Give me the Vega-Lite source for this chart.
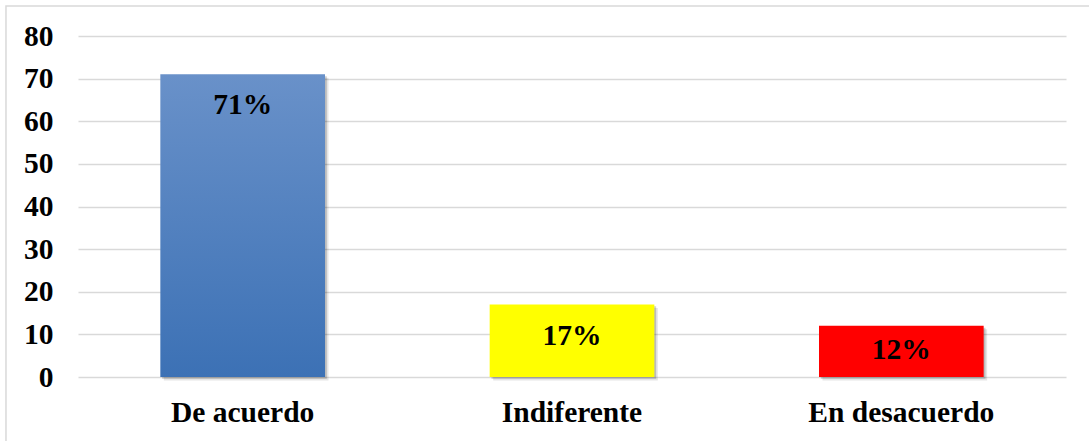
{
  "$schema": "https://vega.github.io/schema/vega-lite/v6.json",
  "autosize": {"type": "none"},
  "width": 988,
  "height": 341,
  "padding": {"left": 78, "top": 36, "right": 23, "bottom": 64},
  "background": "#ffffff",
  "config": {
    "view": {"stroke": null},
    "font": "Liberation Serif"
  },
  "data": {
    "values": [
      {"categoria": "De acuerdo", "valor": 71},
      {"categoria": "Indiferente", "valor": 17},
      {"categoria": "En desacuerdo", "valor": 12}
    ]
  },
  "transform": [{"calculate": "datum.valor + '%'", "as": "etiqueta"}],
  "layer": [
    {
      "data": {"values": [{}]},
      "mark": {"type": "rect", "fill": null, "stroke": "#d9d9d9", "strokeWidth": 1.5},
      "encoding": {
        "x": {"datum": -0.0729, "type": "quantitative", "scale": {"domain": [0, 1], "zero": false, "nice": false}, "axis": null},
        "x2": {"datum": 1.05},
        "y": {"datum": 87.05, "type": "quantitative"},
        "y2": {"datum": -30}
      }
    },
    {
      "encoding": {
        "x": {
          "field": "categoria",
          "type": "nominal",
          "sort": null,
          "scale": {"paddingInner": 0.5, "paddingOuter": 0.25},
          "axis": {
            "title": null,
            "labelAngle": 0,
            "domain": false,
            "ticks": false,
            "tickSize": 0,
            "labelFont": "Liberation Serif",
            "labelFontWeight": "bold",
            "labelFontSize": 29.5,
            "labelColor": "#000000",
            "labelBaseline": "alphabetic",
            "labelLimit": 0,
            "labelPadding": 44
          }
        },
        "y": {
          "field": "valor",
          "type": "quantitative",
          "scale": {"domain": [0, 80], "nice": false},
          "axis": {
            "title": null,
            "values": [0, 10, 20, 30, 40, 50, 60, 70, 80],
            "domain": false,
            "ticks": false,
            "tickSize": 0,
            "grid": true,
            "gridColor": "#d9d9d9",
            "gridWidth": 1.3,
            "labelFont": "Liberation Serif",
            "labelFontWeight": "bold",
            "labelFontSize": 29.5,
            "labelColor": "#000000",
            "labelPadding": 25
          }
        }
      },
      "layer": [
        {
          "mark": {"type": "bar", "color": "#000000", "opacity": 0.1},
          "encoding": {"xOffset": {"value": 3.5}, "yOffset": {"value": 3.5}}
        },
        {
          "mark": {"type": "bar", "color": "#000000", "opacity": 0.18},
          "encoding": {"xOffset": {"value": 1.8}, "yOffset": {"value": 1.8}}
        },
        {
          "mark": {"type": "bar"},
          "encoding": {
            "color": {
              "condition": {
                "test": "datum.categoria === 'De acuerdo'",
                "value": {
                  "gradient": "linear",
                  "x1": 0, "y1": 0, "x2": 0, "y2": 1,
                  "stops": [
                    {"offset": 0, "color": "#6991c9"},
                    {"offset": 1, "color": "#3c71b5"}
                  ]
                }
              },
              "field": "categoria",
              "type": "nominal",
              "scale": {
                "domain": ["De acuerdo", "Indiferente", "En desacuerdo"],
                "range": ["#4f81bd", "#ffff00", "#ff0000"]
              },
              "legend": null
            }
          }
        },
        {
          "transform": [{"filter": "datum.valor >= 15"}],
          "mark": {"type": "text", "font": "Liberation Serif", "fontWeight": "bold", "fontSize": 29.5, "color": "#000000", "baseline": "alphabetic", "dy": 40},
          "encoding": {"text": {"field": "etiqueta"}}
        },
        {
          "transform": [{"filter": "datum.valor < 15"}],
          "mark": {"type": "text", "font": "Liberation Serif", "fontWeight": "bold", "fontSize": 29.5, "color": "#000000", "baseline": "alphabetic", "dy": 33},
          "encoding": {"text": {"field": "etiqueta"}}
        }
      ]
    }
  ],
  "resolve": {"scale": {"x": "independent"}}
}
